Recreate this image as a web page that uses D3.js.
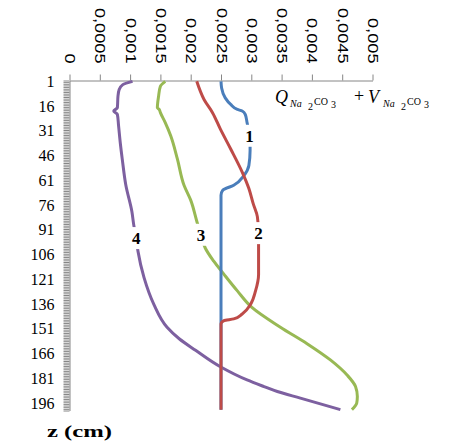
<!DOCTYPE html>
<html>
<head>
<meta charset="utf-8">
<script src="https://cdn.jsdelivr.net/npm/d3@7"></script>
<style>
  body { margin: 0; background: #fff; }
  svg { display: block; }
</style>
</head>
<body>
<svg id="chart" width="454" height="445"></svg>
<script>
// Depth categories 1..200 cm, labelled every 15 cm
const depthCount = 200;
const depthLabels = [1, 16, 31, 46, 61, 76, 91, 106, 121, 136, 151, 166, 181, 196];
const valueTicks = [0, 0.0005, 0.001, 0.0015, 0.002, 0.0025, 0.003, 0.0035, 0.004, 0.0045, 0.005];

// Concentration profiles, [depth (cm), value]
const profile1 = [[1,0.0025],[5,0.00251],[11,0.00257],[15,0.00266],[18,0.00277],[19,0.00285],[21,0.0029],
  [26,0.00293],[30,0.00295],[34,0.00297],[37,0.00298],[43,0.00298],[52,0.00296],[58,0.00288],[64,0.00271],
  [67,0.00253],[70,0.0025],[200,0.0025]];
const profile2 = [[1,0.0021],[12,0.00222],[20,0.00236],[30,0.00249],[42,0.00266],[56,0.00285],[66,0.00296],
  [75,0.00303],[83,0.0031],[93,0.00312],[103,0.00312],[118,0.00312],[128,0.00307],[136,0.00299],[142,0.00285],
  [145,0.00271],[146,0.00255],[148,0.0025],[200,0.0025]];
const profile3 = [[1,0.00158],[4,0.0015],[10,0.00147],[17,0.00145],[18,0.00148],[20,0.0015],[26,0.00158],
  [34,0.00167],[48,0.00178],[64,0.00189],[73,0.002],[87,0.00211],[94,0.00217],[102,0.00224],[110,0.00238],
  [118,0.00255],[128,0.00277],[138,0.00301],[150,0.00348],[160,0.00392],[170,0.00431],[179,0.00458],
  [186,0.00472],[192,0.00475],[196,0.00474],[200,0.00466]];
const profile4 = [[1,0.00104],[3,0.00088],[6,0.00082],[10,0.0008],[17,0.00079],[19,0.00073],[21,0.00079],
  [28,0.00081],[39,0.00084],[48,0.00087],[64,0.00093],[80,0.00103],[88,0.00106],[96,0.0011],[104,0.00113],
  [120,0.00123],[136,0.00139],[150,0.00161],[157,0.00181],[164,0.00208],[174,0.00249],
  [182,0.00293],[186,0.00321],[189,0.00343],[193,0.00381],[200,0.00447]];

const seriesNames = ["1", "2", "3", "4"];
const seriesColors = ["#4A7EBB", "#BE4B48", "#98B954", "#7D60A0"];
const labelDepths = [34, 93, 94, 96];

const series = [profile1, profile2, profile3, profile4].map((pts, i) => ({
  name: seriesNames[i], color: seriesColors[i], points: pts, labelDepth: labelDepths[i]
}));

const svg = d3.select("#chart");
const axisColor = "#868686";

const x = d3.scaleLinear().domain([0, 0.005]).range([69.5, 372.5]);
const y = d3.scaleLinear().domain([0.5, depthCount + 0.5]).range([80.5, 410.5]);

const commaLocale = d3.formatLocale({ decimal: ",", thousands: " ", grouping: [3], currency: ["", ""] });
const fmt = v => v === 0 ? "0" : commaLocale.format(".4~f")(v);

// Top value axis with rotated labels
const topAxis = svg.append("g")
  .attr("transform", `translate(0,${y.range()[0]})`)
  .call(d3.axisTop(x).tickValues(valueTicks).tickSize(6).tickSizeOuter(0).tickFormat(fmt));
topAxis.select(".domain").attr("stroke", axisColor);
topAxis.selectAll(".tick line").attr("stroke", axisColor);
topAxis.selectAll(".tick text")
  .attr("x", 0).attr("y", 0).attr("dy", "0.35em")
  .attr("text-anchor", "end")
  .attr("transform", "translate(0,-17) rotate(90) scale(1.3,1)")
  .attr("font-family", "Liberation Sans, Arial, sans-serif")
  .attr("font-size", 14)
  .attr("fill", "#000");

// Left depth axis: a tick between every category
const boundaries = d3.range(0.5, depthCount + 1, 1);
const leftTicks = svg.append("g")
  .attr("transform", `translate(${x.range()[0]},0)`)
  .call(d3.axisLeft(y).tickValues(boundaries).tickSize(6).tickSizeOuter(0).tickFormat(""));
leftTicks.select(".domain").attr("stroke", axisColor);
leftTicks.selectAll(".tick line").attr("stroke", axisColor);

const leftLabels = svg.append("g")
  .attr("transform", `translate(${x.range()[0]},0)`)
  .call(d3.axisLeft(y).tickValues(depthLabels).tickSize(0).tickPadding(15).tickFormat(d3.format("d")));
leftLabels.select(".domain").remove();
leftLabels.selectAll(".tick text")
  .attr("font-family", "Liberation Serif, Times New Roman, serif")
  .attr("font-size", 16)
  .attr("fill", "#000");

// Profile lines
const line = d3.line()
  .x(d => x(d[1]))
  .y(d => y(d[0]))
  .curve(d3.curveMonotoneY);

const drawOrder = [3, 2, 0, 1];
drawOrder.forEach(i => {
  svg.append("path")
    .datum(series[i].points)
    .attr("fill", "none")
    .attr("stroke", series[i].color)
    .attr("stroke-width", 3)
    .attr("stroke-linejoin", "round")
    .attr("d", line);
});

// Curve numbers on white boxes
series.forEach(s => {
  const p = s.points.find(d => d[0] === s.labelDepth);
  const g = svg.append("g").attr("transform", `translate(${x(p[1])},${y(p[0])})`);
  g.append("rect").attr("x", -7).attr("y", -11).attr("width", 14).attr("height", 22).attr("fill", "#fff");
  g.append("text")
    .attr("text-anchor", "middle")
    .attr("dy", "0.35em")
    .attr("font-family", "Liberation Serif, Times New Roman, serif")
    .attr("font-weight", "bold")
    .attr("font-size", 17)
    .attr("fill", "#000")
    .text(s.name);
});

// Formula caption
const cap = svg.append("text")
  .attr("font-family", "Liberation Serif, Times New Roman, serif")
  .attr("fill", "#000");
const capParts = [
  { t: "Q", x: 275, y: 103, s: 18, i: true },
  { t: "Na", x: 290, y: 106.5, s: 10, i: true },
  { t: "2", x: 308, y: 110, s: 10 },
  { t: "CO", x: 314, y: 105, s: 10 },
  { t: "3", x: 331, y: 108, s: 10 },
  { t: "+", x: 354, y: 102, s: 18 },
  { t: "V", x: 368, y: 103, s: 18, i: true },
  { t: "Na", x: 383, y: 106.5, s: 10, i: true },
  { t: "2", x: 401, y: 110, s: 10 },
  { t: "CO", x: 407, y: 105, s: 10 },
  { t: "3", x: 424, y: 108, s: 10 }
];
capParts.forEach(p => {
  cap.append("tspan")
    .attr("x", p.x).attr("y", p.y)
    .attr("font-size", p.s)
    .attr("font-style", p.i ? "italic" : "normal")
    .text(p.t);
});

// Depth axis title
svg.append("text")
  .attr("x", 47).attr("y", 437)
  .attr("font-family", "Liberation Serif, Times New Roman, serif")
  .attr("font-weight", "bold")
  .attr("font-size", 17)
  .attr("textLength", 65)
  .attr("lengthAdjust", "spacingAndGlyphs")
  .attr("fill", "#000")
  .text("z (cm)");
</script>
</body>
</html>
